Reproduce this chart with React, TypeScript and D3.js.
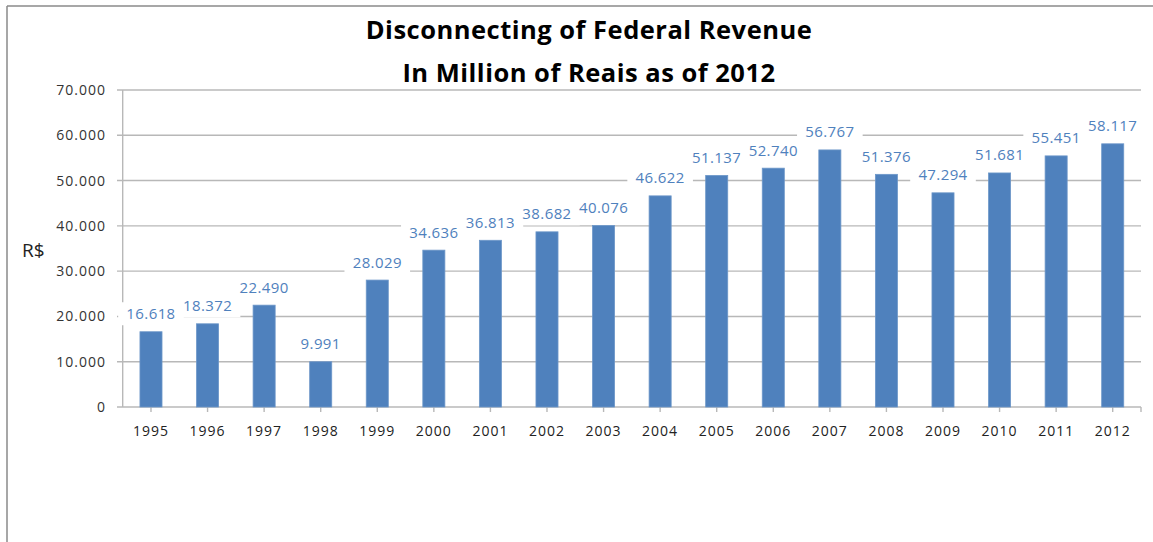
import React from "react";
import * as d3 from "d3";

const years = ["1995","1996","1997","1998","1999","2000","2001","2002","2003","2004","2005","2006","2007","2008","2009","2010","2011","2012"];
const revenue = [16618,18372,22490,9991,28029,34636,36813,38682,40076,46622,51137,52740,56767,51376,47294,51681,55451,58117];
const yTicks = [0,10000,20000,30000,40000,50000,60000,70000];
const titleLines = ["Disconnecting of Federal Revenue","In Million of Reais as of 2012"];

const W = 1153, H = 542;
const left = 122.7, right = 1141, top = 90, bottom = 407;

const fmt = (v: number) => v === 0 ? "0" : d3.format(",.0f")(v).replace(/,/g, ".");
const fmtLabel = (v: number) => d3.format(",")(v).replace(/,/g, ".");

export default function App() {
  const x = d3.scaleBand<string>().domain(years).range([left, right]).paddingInner(0.61).paddingOuter(0.305);
  const y = d3.scaleLinear().domain([0, 70000]).range([bottom, top]);
  const bw = x.bandwidth();
  const font = "'Open Sans', sans-serif";
  const blue = "#4f81bd";
  const grid = "#b8b8b8";
  const textW = (s: string) => s.split("").reduce((a, c) => a + (c === "." ? 4.2 : 8.6), 0) + 0.4 * s.length;

  return (
    <svg width={W} height={H} style={{ position: "absolute", left: 0, top: 0, background: "#fff" }}>
      <rect x={0} y={0} width={W} height={H} fill="#fff" />
      {/* frame */}
      <line x1={7} y1={6} x2={W} y2={6} stroke="#8a8a8a" strokeWidth={1.5} />
      <line x1={7} y1={6} x2={7} y2={H} stroke="#8a8a8a" strokeWidth={1.5} />

      {/* title */}
      {titleLines.map((t, i) => (
        <text key={t} x={589} y={39 + i * 43} textAnchor="middle" fontFamily={font} fontWeight={700} fontSize={25.5} letterSpacing={0.5} fill="#000">{t}</text>
      ))}

      {/* gridlines */}
      {yTicks.map(t => (
        <g key={t}>
          <line x1={117} x2={right} y1={y(t)} y2={y(t)} stroke={grid} strokeWidth={1.4} />
          <text x={106} y={y(t) + 5} textAnchor="end" fontFamily={font} fontSize={14} letterSpacing={1} fill="#333">{fmt(t)}</text>
        </g>
      ))}
      {/* y axis */}
      <line x1={left} x2={left} y1={top} y2={bottom} stroke={grid} strokeWidth={1.4} />
      <text x={22} y={257} fontFamily={font} fontSize={19} fill="#222">R$</text>

      {/* x ticks */}
      {years.map(yr => (
        <line key={"t" + yr} x1={x(yr)! + bw / 2} x2={x(yr)! + bw / 2} y1={bottom} y2={bottom + 5} stroke={grid} strokeWidth={1.4} />
      ))}
      <line x1={right} x2={right} y1={bottom} y2={bottom + 5} stroke={grid} strokeWidth={1.4} />
      {years.map(yr => (
        <text key={"l" + yr} x={x(yr)! + bw / 2} y={436} textAnchor="middle" fontFamily={font} fontSize={14} letterSpacing={1} fill="#222">{yr}</text>
      ))}

      {/* bars */}
      {revenue.map((v, i) => (
        <rect key={"b" + i} x={x(years[i])!} y={y(v)} width={bw} height={bottom - y(v)} fill={blue} stroke="#6d97c9" strokeWidth={0.8} />
      ))}

      {/* data labels */}
      {revenue.map((v, i) => {
        const cx = x(years[i])! + bw / 2;
        const base = y(v) - 12.5;
        const s = fmtLabel(v);
        const tw = textW(s);
        return (
          <g key={"d" + i}>
            <rect x={cx - tw / 2 - 8} y={base - 17} width={tw + 16} height={23} fill="#fff" />
            <text x={cx} y={base} textAnchor="middle" fontFamily={font} fontSize={15} letterSpacing={0.4} fill={blue}>{s}</text>
          </g>
        );
      })}
    </svg>
  );
}
